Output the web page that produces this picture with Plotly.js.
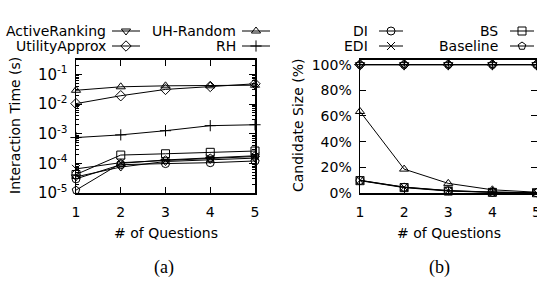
<!DOCTYPE html>
<html>
<head>
<meta charset="utf-8">
<script src="https://cdn.plot.ly/plotly-3.0.1.min.js"></script>
<style>html,body{margin:0;padding:0;background:#fff;}#chart{width:537px;height:283px;}</style>
</head>
<body>
<div id="chart"></div>
<script>
// ---- data ----
const questions = [1, 2, 3, 4, 5];
const seriesNames = ["ActiveRanking", "UtilityApprox", "UH-Random", "RH", "DI", "EDI", "BS", "Baseline"];

// (a) Interaction time (s)
const timeActiveRanking = [3.5e-5, 7.5e-5, 1.15e-4, 1.35e-4, 1.5e-4];
const timeUtilityApprox = [0.0103, 0.019, 0.031, 0.039, 0.048];
const timeUHRandom      = [0.029, 0.038, 0.041, 0.041, 0.043];
const timeRH            = [7.4e-4, 9.1e-4, 1.26e-3, 1.86e-3, 2.0e-3];
const timeDI            = [3.0e-5, 9.0e-5, 9.8e-5, 1.05e-4, 1.2e-4];
const timeEDI           = [6.5e-5, 1.05e-4, 1.25e-4, 1.45e-4, 1.7e-4];
const timeBS            = [4.2e-5, 1.9e-4, 2.1e-4, 2.35e-4, 2.6e-4];
const timeBaseline      = [1.25e-5, 1.0e-4, 1.3e-4, 1.5e-4, 1.8e-4];

// (b) Candidate size (%)
const candActiveRanking = [100, 100, 100, 100, 100];
const candUtilityApprox = [100, 100, 100, 100, 100];
const candUHRandom      = [63.5, 18.6, 7.5, 2.5, 0.6];
const candRH            = [100, 100, 100, 100, 100];
const candDI            = [9.8, 4.5, 1.8, 0.6, 0.2];
const candEDI           = [9.9, 4.6, 1.9, 0.7, 0.3];
const candBS            = [9.6, 4.2, 1.5, 0.5, 0.2];
const candBaseline      = [100, 100, 100, 100, 100];

const logTickVals = [1e-5, 1e-4, 1e-3, 1e-2, 1e-1];
const logTickText = ["10<sup>-5</sup>", "10<sup>-4</sup>", "10<sup>-3</sup>", "10<sup>-2</sup>", "10<sup>-1</sup>"];
const pctTickVals = [0, 20, 40, 60, 80, 100];
const pctTickText = ["0%", "20%", "40%", "60%", "80%", "100%"];

// ---- styles ----
const symbols = {
  "ActiveRanking": "triangle-down-open",
  "UtilityApprox": "diamond-open",
  "UH-Random": "triangle-up-open",
  "RH": "cross-thin-open",
  "DI": "circle-open",
  "EDI": "x-thin-open",
  "BS": "square-open",
  "Baseline": "pentagon-open"
};
const timeData = {
  "ActiveRanking": timeActiveRanking, "UtilityApprox": timeUtilityApprox,
  "UH-Random": timeUHRandom, "RH": timeRH, "DI": timeDI, "EDI": timeEDI,
  "BS": timeBS, "Baseline": timeBaseline
};
const candData = {
  "ActiveRanking": candActiveRanking, "UtilityApprox": candUtilityApprox,
  "UH-Random": candUHRandom, "RH": candRH, "DI": candDI, "EDI": candEDI,
  "BS": candBS, "Baseline": candBaseline
};

const W = 537, H = 283;
const FONT = "DejaVu Sans";
const MS = 8;

function markerStyle(name) {
  return {symbol: symbols[name], size: MS, color: "#000", line: {color: "#000", width: 1}};
}

const traces = [];
seriesNames.forEach(n => {
  traces.push({x: questions, y: timeData[n], xaxis: "x", yaxis: "y", mode: "lines+markers",
    line: {color: "#000", width: 1}, marker: markerStyle(n), showlegend: false, name: n, cliponaxis: false});
});
seriesNames.forEach(n => {
  traces.push({x: questions, y: candData[n], xaxis: "x2", yaxis: "y2", mode: "lines+markers",
    line: {color: "#000", width: 1}, marker: markerStyle(n), showlegend: false, name: n, cliponaxis: false});
});

// legend layout (pixel positions on overlay axis)
const legendItems = [
  {name: "ActiveRanking", tx: 108, ty: 31, lx0: 112, lx1: 140},
  {name: "UH-Random",     tx: 238, ty: 31, lx0: 242, lx1: 270},
  {name: "UtilityApprox", tx: 108, ty: 46, lx0: 112, lx1: 140},
  {name: "RH",            tx: 238, ty: 46, lx0: 242, lx1: 270},
  {name: "DI",            tx: 370, ty: 31, lx0: 379, lx1: 403},
  {name: "BS",            tx: 500, ty: 31, lx0: 510, lx1: 534},
  {name: "EDI",           tx: 370, ty: 46, lx0: 379, lx1: 403},
  {name: "Baseline",      tx: 500, ty: 46, lx0: 510, lx1: 534}
];
const annotations = [];
legendItems.forEach(it => {
  const mid = (it.lx0 + it.lx1) / 2;
  traces.push({x: [it.lx0, it.lx1], y: [it.ty, it.ty], xaxis: "x3", yaxis: "y3",
    mode: "lines", line: {color: "#000", width: 1},
    showlegend: false, hoverinfo: "skip", cliponaxis: false});
  traces.push({x: [mid], y: [it.ty], xaxis: "x3", yaxis: "y3", mode: "markers",
    marker: markerStyle(it.name), showlegend: false, hoverinfo: "skip", cliponaxis: false});
  annotations.push({xref: "x3", yref: "y3", x: it.tx, y: it.ty, text: it.name, showarrow: false,
    xanchor: "right", yanchor: "middle", font: {family: FONT, size: 14, color: "#000"}});
});

// axis titles & captions
annotations.push({xref: "x3", yref: "y3", x: 15, y: 126, text: "Interaction Time (s)", textangle: -90,
  showarrow: false, xanchor: "center", yanchor: "middle", font: {family: FONT, size: 14, color: "#000"}});
annotations.push({xref: "x3", yref: "y3", x: 298, y: 126, text: "Candidate Size (%)", textangle: -90,
  showarrow: false, xanchor: "center", yanchor: "middle", font: {family: FONT, size: 14, color: "#000"}});
annotations.push({xref: "x3", yref: "y3", x: 165.5, y: 233, text: "# of Questions",
  showarrow: false, xanchor: "center", yanchor: "middle", font: {family: FONT, size: 14, color: "#000"}});
annotations.push({xref: "x3", yref: "y3", x: 449, y: 233, text: "# of Questions",
  showarrow: false, xanchor: "center", yanchor: "middle", font: {family: FONT, size: 14, color: "#000"}});
annotations.push({xref: "x3", yref: "y3", x: 163.5, y: 267, text: "(a)",
  showarrow: false, xanchor: "center", yanchor: "middle", font: {family: "Liberation Serif", size: 18, color: "#000"}});
annotations.push({xref: "x3", yref: "y3", x: 439.5, y: 267, text: "(b)",
  showarrow: false, xanchor: "center", yanchor: "middle", font: {family: "Liberation Serif", size: 18, color: "#000"}});

// minor log ticks
const minorLog = [];
for (let e = -5; e <= -1; e++) for (let d = 2; d <= 9; d++) minorLog.push(d * Math.pow(10, e));

const yTop = 1 - 59.5 / H, yBot = 1 - 193 / H;
const axisCommon = {showline: true, linecolor: "#000", linewidth: 1.5, mirror: "ticks", ticks: "inside",
  ticklen: 6, tickwidth: 1, tickcolor: "#000", showgrid: false, zeroline: false,
  ticklabeloverflow: "allow",
  tickfont: {family: FONT, size: 14, color: "#000"}, fixedrange: true};

const layout = {
  width: W, height: H,
  margin: {l: 0, r: 0, t: 0, b: 0},
  paper_bgcolor: "#fff", plot_bgcolor: "rgba(0,0,0,0)",
  showlegend: false,
  xaxis: Object.assign({}, axisCommon, {domain: [76 / W, 255 / W], range: [1, 5], tickmode: "array",
    tickvals: questions, anchor: "y", ticklabelstandoff: 6}),
  yaxis: Object.assign({}, axisCommon, {domain: [yBot, yTop], type: "log", range: [-5, -0.5],
    tickmode: "array", tickvals: logTickVals, ticktext: logTickText, anchor: "x", ticklabelstandoff: 4,
    tickfont: {family: FONT, size: 15, color: "#000"},
    minor: {ticks: "inside", ticklen: 3, tickcolor: "#000", tickmode: "array", tickvals: minorLog, showgrid: false}}),
  xaxis2: Object.assign({}, axisCommon, {domain: [360 / W, 536.5 / W], range: [1, 5], tickmode: "array",
    tickvals: questions, anchor: "y2", ticklabelstandoff: 6}),
  yaxis2: Object.assign({}, axisCommon, {domain: [yBot, yTop], range: [0, 104], tickmode: "array",
    tickvals: pctTickVals, ticktext: pctTickText, anchor: "x2", ticklabelstandoff: 4}),
  xaxis3: {domain: [0, 1], range: [0, W], visible: false, anchor: "y3", fixedrange: true},
  yaxis3: {domain: [0, 1], range: [H, 0], visible: false, anchor: "x3", fixedrange: true},
  annotations: annotations
};

Plotly.newPlot("chart", traces, layout, {staticPlot: true, displayModeBar: false});
</script>
</body>
</html>
